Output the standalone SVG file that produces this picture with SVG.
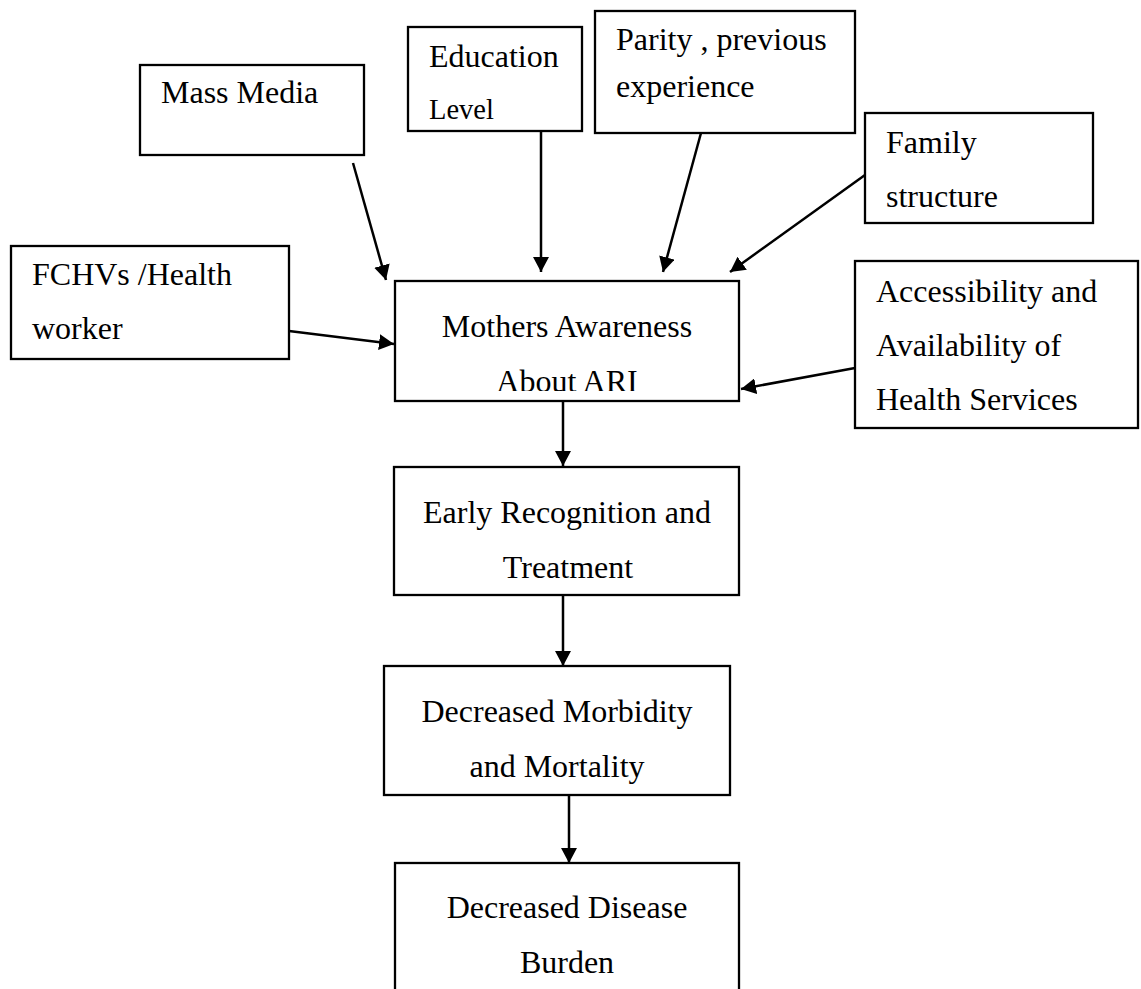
<svg xmlns="http://www.w3.org/2000/svg" width="1141" height="989" viewBox="0 0 1141 989">
<style>
.box{fill:#fff;stroke:#000;stroke-width:2.3}
.t{font-family:"Liberation Serif","Times New Roman",serif;font-size:32px;fill:#000}
.c{text-anchor:middle}
.conn line{stroke:#000;stroke-width:2.5;marker-end:url(#ah)}
</style>
<defs>
<marker id="ah" markerUnits="userSpaceOnUse" viewBox="0 0 15 16" refX="15" refY="8" markerWidth="15" markerHeight="16" orient="auto">
<path d="M0,0 L15,8 L0,16 z" fill="#000"/>
</marker>
<clipPath id="clipM"><rect x="395" y="281" width="344" height="110"/></clipPath>
</defs>
<rect width="1141" height="989" fill="#fff"/>
<g id="mass-media"><rect class="box" x="140" y="65" width="224" height="90"/><text class="t" x="161" y="103">Mass Media</text></g>
<g id="education"><rect class="box" x="408" y="27" width="174" height="104"/><text class="t" x="429" y="67">Education</text><text class="t" x="429" y="119" style="font-size:28.5px">Level</text></g>
<g id="parity"><rect class="box" x="595" y="11" width="260" height="122"/><text class="t" x="616" y="50">Parity , previous</text><text class="t" x="616" y="97">experience</text></g>
<g id="family"><rect class="box" x="865" y="113" width="228" height="110"/><text class="t" x="886" y="153">Family</text><text class="t" x="886" y="207">structure</text></g>
<g id="fchv"><rect class="box" x="11" y="246" width="278" height="113"/><text class="t" x="32" y="285">FCHVs /Health</text><text class="t" x="32" y="339">worker</text></g>
<g id="mothers"><rect class="box" x="395" y="281" width="344" height="120"/><text class="t c" x="567" y="337">Mothers Awareness</text><text class="t c" x="567" y="392" clip-path="url(#clipM)">About ARI</text></g>
<g id="access"><rect class="box" x="855" y="261" width="283" height="167"/><text class="t" x="876" y="302">Accessibility and</text><text class="t" x="876" y="356">Availability of</text><text class="t" x="876" y="410">Health Services</text></g>
<g id="early"><rect class="box" x="394" y="467" width="345" height="128"/><text class="t c" x="567" y="523">Early Recognition and</text><text class="t c" x="568" y="578">Treatment</text></g>
<g id="morbidity"><rect class="box" x="384" y="666" width="346" height="129"/><text class="t c" x="557" y="722">Decreased Morbidity</text><text class="t c" x="557" y="777">and Mortality</text></g>
<g id="disease"><rect class="box" x="395" y="863" width="344" height="140"/><text class="t c" x="567" y="918">Decreased Disease</text><text class="t c" x="567" y="973">Burden</text></g>
<g id="connectors" class="conn">
<line x1="353" y1="163" x2="386" y2="280"/>
<line x1="541" y1="131" x2="541" y2="272"/>
<line x1="701" y1="133" x2="663" y2="272"/>
<line x1="865" y1="175" x2="730" y2="272"/>
<line x1="289" y1="331" x2="394" y2="344"/>
<line x1="855" y1="368" x2="741" y2="389"/>
<line x1="563" y1="401" x2="563" y2="466"/>
<line x1="563" y1="595" x2="563" y2="666"/>
<line x1="569" y1="795" x2="569" y2="863"/>
</g>
</svg>
